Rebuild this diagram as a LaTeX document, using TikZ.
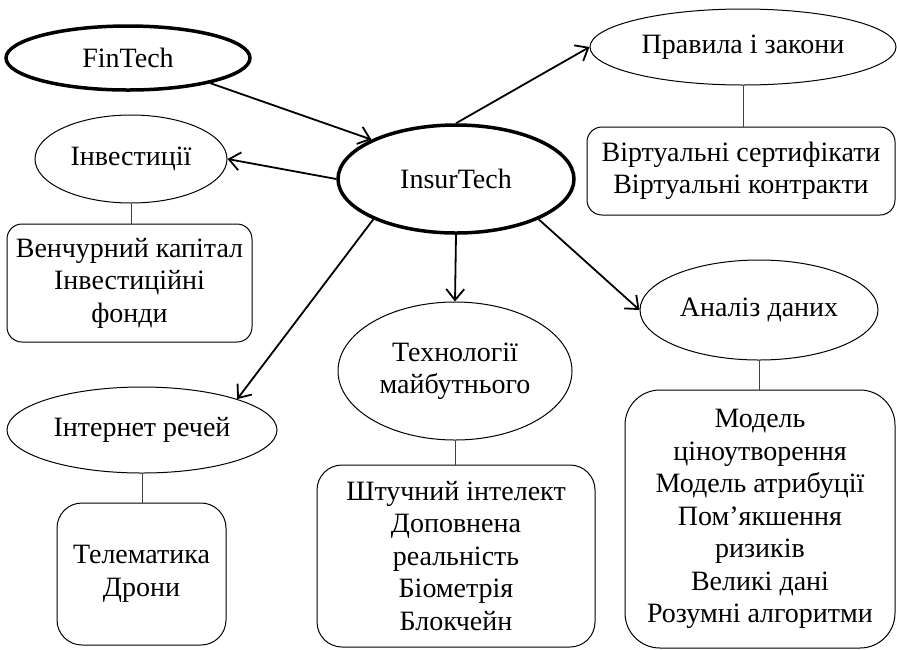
\documentclass[tikz,border=0pt]{standalone}
\usepackage{fontspec}
\setmainfont{Liberation Serif}
\usetikzlibrary{shapes.geometric,arrows.meta}
\begin{document}
\begin{tikzpicture}[x=1pt,y=-1pt,
  font=\fontsize{28}{32.5}\selectfont,
  oval/.style={ellipse,draw,line width=1pt,inner sep=0pt,align=center},
  mainoval/.style={oval,line width=3.5pt},
  infobox/.style={draw,line width=1pt,rounded corners=#1,inner sep=0pt,align=center},
  infobox/.default=15pt,
  link/.style={line width=1.8pt,-{Straight Barb[length=11pt,width=18pt,line width=1.8pt]}},
  tie/.style={line width=1pt,black!75}]
  \useasboundingbox (0,0) rectangle (897,649);
  % ovals
  \node[mainoval,minimum width=244pt,minimum height=64pt] (fin) at (128,58) {FinTech};
  \node[mainoval,minimum width=236pt,minimum height=108pt] (ins) at (456,179) {InsurTech};
  \node[oval,minimum width=192pt,minimum height=88pt] (inv) at (131,159) {Інвестиції};
  \node[oval,minimum width=306pt,minimum height=76pt] (law) at (743,47) {Правила і закони};
  \node[oval,minimum width=270pt,minimum height=86pt] (iot) at (142,430) {Інтернет речей};
  \node[oval,minimum width=234pt,minimum height=138pt] (tech) at (455,371) {Технології\\майбутнього};
  \node[oval,minimum width=238pt,minimum height=100pt] (data) at (759,310) {Аналіз даних};
  % boxes
  \node[infobox,minimum width=245pt,minimum height=118pt] (invbox) at (129.5,283)
    {Венчурний капітал\\Інвестиційні\\фонди};
  \node[infobox,minimum width=308pt,minimum height=88pt] (lawbox) at (741,171)
    {Віртуальні сертифікати\\Віртуальні контракти};
  \node[infobox=25pt,minimum width=169pt,minimum height=142pt] (iotbox) at (141.5,574)
    {Телематика\\Дрони};
  \node[infobox=25pt,minimum width=278pt,minimum height=182pt] (techbox) at (456,556)
    {Штучний інтелект\\Доповнена\\реальність\\Біометрія\\Блокчейн};
  \node[infobox=35pt,minimum width=270pt,minimum height=258pt] (databox) at (760,519)
    {Модель\\ціноутворення\\Модель атрибуції\\Пом’якшення\\ризиків\\Великі дані\\Розумні алгоритми};
  % arrows
  \draw[link] (fin.343) -- (ins.155);
  \draw[link] (ins.west) -- (inv.east);
  \draw[link] (ins.north) -- (law.west);
  \draw[link] (ins.206) -- (iot.18);
  \draw[link] (ins.south) -- (tech.north);
  \draw[link] (ins.334) -- (data.west);
  % ties
  \draw[tie] (inv.south) -- (inv.south |- invbox.north);
  \draw[tie] (law.south) -- (law.south |- lawbox.north);
  \draw[tie] (iot.south) -- (iot.south |- iotbox.north);
  \draw[tie] (tech.south) -- (tech.south |- techbox.north);
  \draw[tie] (data.south) -- (data.south |- databox.north);
\end{tikzpicture}
\end{document}
